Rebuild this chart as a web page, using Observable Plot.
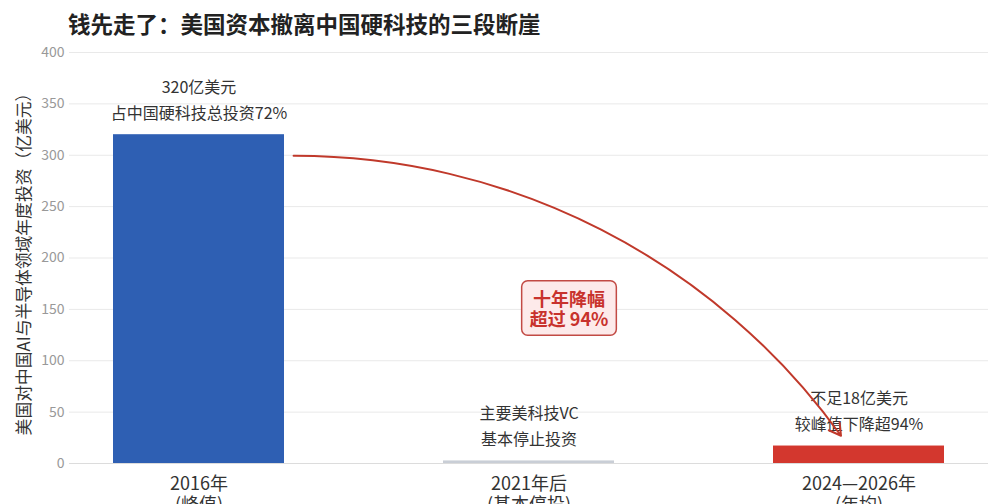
<!DOCTYPE html>
<html>
<head>
<meta charset="utf-8">
<script src="https://cdn.jsdelivr.net/npm/d3@7"></script>
<script src="https://cdn.jsdelivr.net/npm/@observablehq/plot@0.6"></script>
<style>
  html, body { margin: 0; padding: 0; background: #fff; overflow: hidden; }
  body { width: 988px; height: 504px; font-family: "Noto Sans CJK SC", "Noto Sans", sans-serif; }
  #title { height: 40px; box-sizing: border-box; padding: 6px 0 0 68px; display: flex; align-items: center;
           font-size: 22.5px; font-weight: bold; color: #222; letter-spacing: 0; }
</style>
</head>
<body>
<div id="title">钱先走了：美国资本撤离中国硬科技的三段断崖</div>
<div id="chart"></div>
<script>
// ---- data ----
const categories = ["2016年\n(峰值)", "2021年后\n(基本停投)", "2024—2026年\n(年均)"];
const values = [320, 2.5, 17];
const barNotes = ["320亿美元\n占中国硬科技总投资72%", "主要美科技VC\n基本停止投资", "不足18亿美元\n较峰值下降超94%"];
const barColors = ["#2e5fb3", "#c9ced6", "#d3372e"];
const yTicks = [0, 50, 100, 150, 200, 250, 300, 350, 400];
const yLabel = "美国对中国AI与半导体领域年度投资（亿美元）";
const boxNote = ["十年降幅\n超过 94%"];
const boxCategory = ["2021年后\n(基本停投)"];
const boxValue = [150];
const arrowFrom = ["2016年\n(峰值)"];
const arrowFromValue = [290];
const arrowTo = ["2024—2026年\n(年均)"];
const arrowToValue = [27];

const bars = categories.map((c, i) => ({category: c, value: values[i], note: barNotes[i]}));
const arrows = arrowFrom.map((f, i) => ({from: f, fromValue: arrowFromValue[i], to: arrowTo[i], toValue: arrowToValue[i]}));
const boxes = boxNote.map((t, i) => ({label: t, category: boxCategory[i], value: boxValue[i]}));

const font = '"Noto Sans CJK SC", "Noto Sans", sans-serif';

const chart = Plot.plot({
  width: 988,
  height: 473,
  marginTop: 12,
  marginLeft: 69,
  marginRight: 0,
  marginBottom: 50,
  style: {fontFamily: font, background: "#fff", overflow: "visible"},
  x: {type: "band", domain: categories, paddingInner: 0.483, paddingOuter: 0.131},
  y: {domain: [0, 400]},
  color: {domain: categories, range: barColors},
  marks: [
    Plot.gridY(yTicks, {stroke: "#e9e9e9", strokeOpacity: 1}),
    Plot.ruleY([0], {stroke: "#dcdcdc"}),
    Plot.axisY({ticks: yTicks, tickSize: 0, tickPadding: 5, fontSize: 14, fill: "#999", label: null}),
    Plot.axisX({tickSize: 0, tickPadding: 12, fontSize: 18, fill: "#333", lineHeight: 1.15, label: null}),
    Plot.text([yLabel], {frameAnchor: "left", rotate: -90, textAnchor: "middle", dx: -44.5, dy: 2, fontSize: 16.8, fill: "#333"}),
    Plot.barY(bars, {x: "category", y: "value", fill: "category"}),
    Plot.text(bars, {x: "category", y: "value", text: "note", lineAnchor: "bottom", dy: -16, fontSize: 16, lineHeight: 1.6, fill: "#333"}),
    Plot.arrow(arrows, {x1: "from", y1: "fromValue", x2: "to", y2: "toValue", bend: 32, insetStart: 113, dx: -18,
      stroke: "#c0392b", strokeWidth: 2, headLength: 10}),
    Plot.text(boxes, {x: "category", y: "value", text: "label", dx: 40, fontSize: 18, fontWeight: "bold", lineHeight: 1.15,
      fill: "#c8322c", className: "boxnote"})
  ]
});
document.getElementById("chart").appendChild(chart);

// background box behind the note
chart.querySelectorAll("g.boxnote text").forEach(t => {
  const b = t.getBBox();
  const padX = 8, padY = 4;
  const r = document.createElementNS("http://www.w3.org/2000/svg", "rect");
  r.setAttribute("x", b.x - padX);
  r.setAttribute("y", b.y - padY);
  r.setAttribute("width", b.width + 2 * padX);
  r.setAttribute("height", b.height + 2 * padY);
  r.setAttribute("rx", 6);
  r.setAttribute("fill", "#fdeaea");
  r.setAttribute("stroke", "#c24a44");
  r.setAttribute("stroke-width", 1.5);
  const tr = t.getAttribute("transform");
  if (tr) r.setAttribute("transform", tr);
  t.parentNode.insertBefore(r, t);
});
</script>
</body>
</html>
